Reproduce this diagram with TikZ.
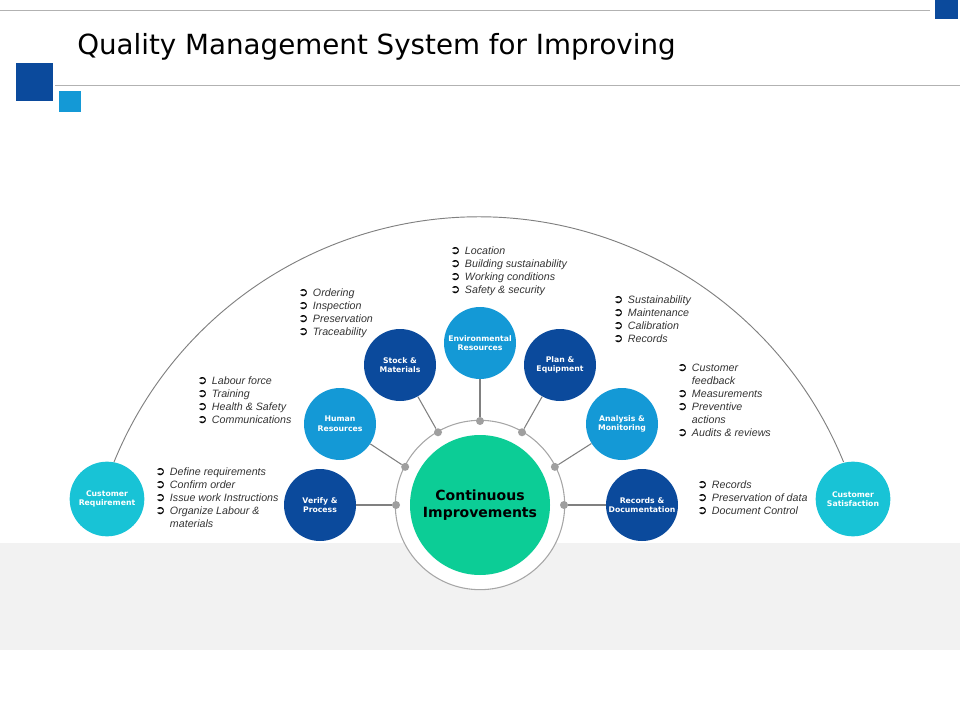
\documentclass[tikz,border=0pt]{standalone}
\usepackage{fontspec}
\usetikzlibrary{calc}
\setmainfont{Liberation Sans}
\newfontfamily\dejavu{DejaVu Sans}
\definecolor{darkblue}{HTML}{0B4A9C}
\definecolor{midblue}{HTML}{1499D6}
\definecolor{cyanish}{HTML}{18C3D6}
\definecolor{greenish}{HTML}{0CCD96}
\definecolor{bandgray}{HTML}{F2F2F2}
\definecolor{textgray}{HTML}{333333}
\newcommand{\arr}{{\dejavu\bfseries\fontsize{9}{9}\selectfont\color{black}➲}}
\newcommand{\blist}[1]{{\fontsize{8}{9.75}\selectfont\itshape\color{textgray}
  \begin{tabular}{@{}l@{\hspace{3.5pt}}l@{}}#1\end{tabular}}}

\begin{document}
\begin{tikzpicture}[x=0.75pt, y=-0.75pt,
  every node/.style={inner sep=0pt},
  ball/.style={circle, minimum size=54pt, text=white, align=center,
    font=\dejavu\bfseries\fontsize{5.8}{7.2}\selectfont},
  dot/.style={circle, fill=gray!75, minimum size=6pt},
  spoke/.style={draw=gray, line width=0.8pt}]
  \useasboundingbox (0,0) rectangle (960,720);
  % header
  \fill[bandgray] (0,543) rectangle (960,650);
  \draw[gray!60] (0,10) -- (930,10);
  \draw[gray!60] (55,85) -- (960,85);
  \fill[darkblue] (935,0) rectangle (958,19);
  \fill[darkblue] (16,63) rectangle (53,101);
  \fill[midblue] (59,91) rectangle (81,112);
  \node[anchor=west, font=\dejavu\fontsize{20.8}{24}\selectfont] (title) at (77,47) {Quality Management System for Improving};
  % big arc
  \draw[gray, line width=0.7pt] (114,462) arc[start angle=-157.8, end angle=-22.2, radius=394];
  % centre
  \node[circle, draw=gray!70, fill=white, line width=0.8pt, minimum size=127pt] (ring) at (480,505) {};
  \node[circle, fill=greenish, minimum size=105pt, align=center,
    font=\dejavu\bfseries\fontsize{10.5}{12.5}\selectfont] (ci) at (480,505) {Continuous\\Improvements};
  % customers
  \node[ball, fill=cyanish, minimum size=56pt] (creq) at (107,499) {Customer\\Requirement};
  \node[ball, fill=cyanish, minimum size=56pt] (csat) at (853,499) {Customer\\Satisfaction};
  % satellites
  \node[ball, fill=darkblue] (verify) at (320,505) {Verify \&\\Process};
  \node[ball, fill=midblue] (human) at (340,424) {Human\\Resources};
  \node[ball, fill=darkblue] (stock) at (400,365) {Stock \&\\Materials};
  \node[ball, fill=midblue] (env) at (480,343) {Environmental\\Resources};
  \node[ball, fill=darkblue] (plan) at (560,365) {Plan \&\\Equipment};
  \node[ball, fill=midblue] (anal) at (622,424) {Analysis \&\\Monitoring};
  \node[ball, fill=darkblue] (rec) at (642,505) {Records \&\\Documentation};
  % dots on the ring
  \foreach \a/\s in {180/verify, 153/human, 120/stock, 90/env, 60/plan, 27/anal, 0/rec} {
    \node[dot] (d\s) at ($(480,505)+(\a:84 and -84)$) {};
    \draw[spoke] (d\s) -- (\s);
  }
  % lists
  \node[anchor=north west] (lenv) at (450,245) {\blist{\arr & Location\\ \arr & Building sustainability\\ \arr & Working conditions\\ \arr & Safety \& security}};
  \node[anchor=north west] (lstock) at (298,287) {\blist{\arr & Ordering\\ \arr & Inspection\\ \arr & Preservation\\ \arr & Traceability}};
  \node[anchor=north west] (lplan) at (613,294) {\blist{\arr & Sustainability\\ \arr & Maintenance\\ \arr & Calibration\\ \arr & Records}};
  \node[anchor=north west] (lhuman) at (197,375) {\blist{\arr & Labour force\\ \arr & Training\\ \arr & Health \& Safety\\ \arr & Communications}};
  \node[anchor=north west] (lanal) at (677,362) {\blist{\arr & Customer\\ & feedback\\ \arr & Measurements\\ \arr & Preventive\\ & actions\\ \arr & Audits \& reviews}};
  \node[anchor=north west] (lverify) at (155,466) {\blist{\arr & Define requirements\\ \arr & Confirm order\\ \arr & Issue work Instructions\\ \arr & Organize Labour \&\\ & materials}};
  \node[anchor=north west] (lrec) at (697,479) {\blist{\arr & Records\\ \arr & Preservation of data\\ \arr & Document Control}};
\end{tikzpicture}
\end{document}
